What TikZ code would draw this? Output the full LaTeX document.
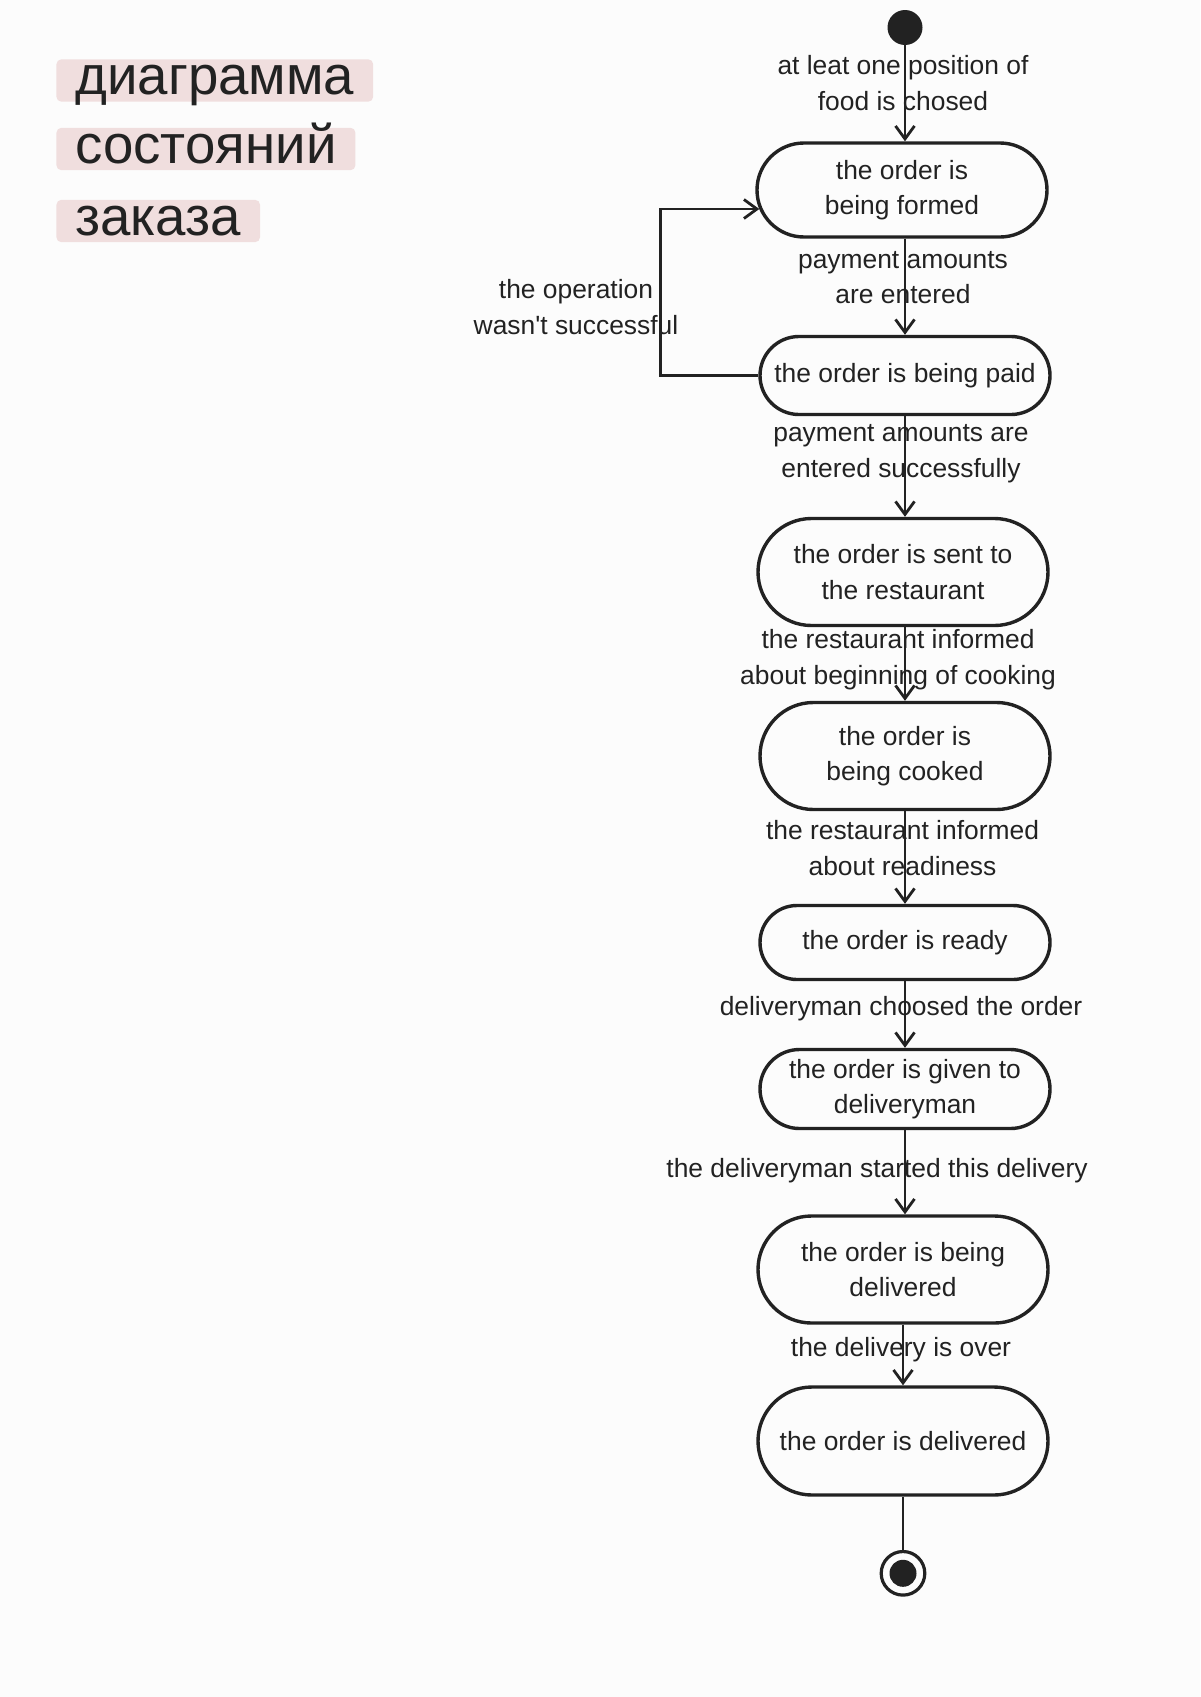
\documentclass[tikz,border=0pt]{standalone}
\usepackage{fontspec}
\setmainfont{Liberation Sans}
\usetikzlibrary{arrows.meta}

\definecolor{ink}{RGB}{34,34,34}
\definecolor{tagpink}{RGB}{240,222,222}
\definecolor{paper}{RGB}{252,252,252}

\begin{document}
\begin{tikzpicture}[x=0.5pt, y=-0.5pt, >={Straight Barb[length=6.5pt,width=9.5pt]},
    txt/.style={font=\fontsize{13.2}{17.8}\selectfont, text=ink, align=center},
    state/.style={txt, draw=ink, line width=1.7pt, minimum width=145pt,
      minimum height=#1, rounded corners=#1/2, inner sep=2pt},
    trans/.style={txt, inner sep=0pt},
    flow/.style={->, draw=ink, line width=1.4pt},
    tag/.style={anchor=west, fill=tagpink, rounded corners=2.5pt, text=ink,
      font=\fontsize{27.3}{32}\selectfont, inner xsep=9.5pt, inner ysep=0pt,
      text height=17.6pt, text depth=3.6pt}]

        % ==========================================
        % Sfondo e cornice della pagina
        % ==========================================
        \fill[paper] (0,0) rectangle (1200,1697);
        \useasboundingbox (0,0) rectangle (1200,1697);

        % ==========================================
        % 1. TITOLO (etichette rosa)
        % ==========================================
        \node[tag] (title1) at (56,80.5) {диаграмма};
        \node[tag] (title2) at (56,149) {состояний};
        \node[tag] (title3) at (56,221) {заказа};

        % ==========================================
        % 2. STATI DELL'ORDINE
        % ==========================================
        \node[circle, fill=ink, minimum size=17.5pt, inner sep=0pt] (start) at (905,27.5) {};

        \node[state=47pt] (formed) at (902,190) {the order is\\being formed};
        \node[state=39pt] (paid) at (905,375.5) {the order is being paid};
        \node[state=53.5pt] (sent) at (903,572) {the order is sent to\\the restaurant};
        \node[state=53.5pt] (cooked) at (905,756) {the order is\\being cooked};
        \node[state=37pt] (ready) at (905,942.5) {the order is ready};
        \node[state=39.5pt] (given) at (905,1089) {the order is given to\\deliveryman};
        \node[state=53.5pt] (delivering) at (903,1269.5) {the order is being\\delivered};
        \node[state=54pt] (delivered) at (903,1441) {the order is delivered};

        \node[circle, draw=ink, line width=1.6pt, minimum size=21.8pt, inner sep=0pt] (stop) at (903,1573.3) {};
        \node[circle, fill=ink, minimum size=13.5pt, inner sep=0pt] (stopdot) at (stop) {};

        % ==========================================
        % 3. TRANSIZIONI
        % ==========================================
        \draw[flow] (start) -- (start |- formed.north);
        \draw[flow] (formed.south -| paid) -- (paid);
        \draw[flow] (paid) -- (paid |- sent.north);
        \draw[flow] (sent.south -| cooked) -- (cooked);
        \draw[flow] (cooked) -- (ready);
        \draw[flow] (ready) -- (given);
        \draw[flow] (given) -- (given |- delivering.north);
        \draw[flow] (delivering) -- (delivered);
        \draw[draw=ink, line width=1.4pt] (delivered) -- (stop);

        % Ritorno a gomito: pagamento fallito
        \draw[flow] (paid.west) -- ++(-98,0) |- ([shift={(4,19)}]formed.west);

        % Etichette delle transizioni
        \node[trans] (lchosen) at (903,83) {at leat one position of\\food is chosed};
        \node[trans] (lentered) at (903,277.5) {payment amounts\\are entered};
        \node[trans] (lfailed) at (576,307) {the operation\\wasn\textquotesingle t successful};
        \node[trans] (lsuccess) at (901,454) {payment amounts are\\entered successfully};
        \node[trans] (lbegin) at (898,659.5) {the restaurant informed\\about beginning of cooking};
        \node[trans] (lreadiness) at (902.5,848) {the restaurant informed\\about readiness};
        \node[trans] (lchoosed) at (901,1008.5) {deliveryman choosed the order};
        \node[trans] (lstarted) at (877,1171) {the deliveryman started this delivery};
        \node[trans] (lover) at (901,1349.4) {the delivery is over};

    \end{tikzpicture}
\end{document}
